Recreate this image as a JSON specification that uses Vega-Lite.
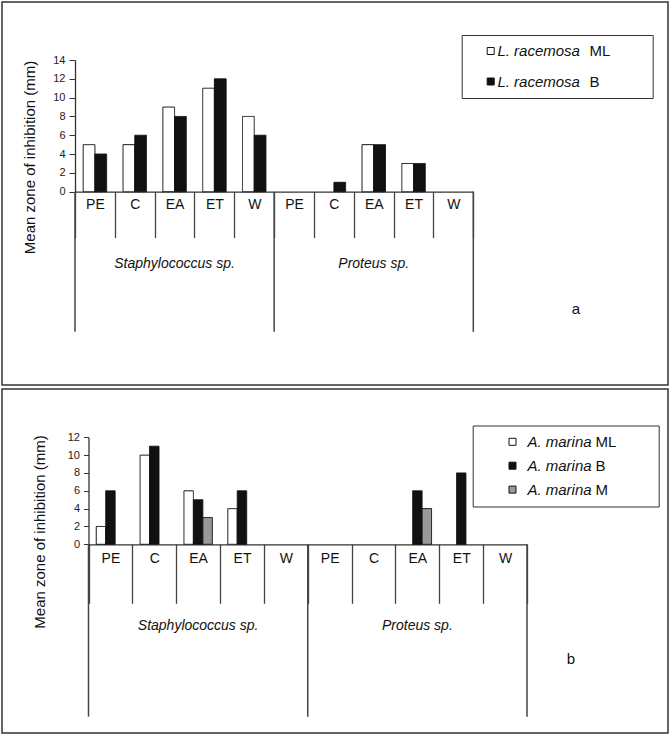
{
  "$schema": "https://vega.github.io/schema/vega-lite/v6.json",
  "background": "white",
  "padding": {"left": 1, "top": 1, "right": 1, "bottom": 1},
  "spacing": 2,
  "config": {
    "font": "Liberation Sans",
    "axis": {"grid": false},
    "title": {"font": "Liberation Sans"}
  },
  "resolve": {
    "scale": {"x": "independent", "y": "independent", "xOffset": "independent", "fill": "independent", "strokeDash": "independent"},
    "legend": {"fill": "independent", "strokeDash": "independent"}
  },
  "datasets": {
    "top": [
      {"group": "Staphylococcus sp.", "solvent": "PE", "cat": "S|PE", "series": "L. racemosa ML", "extract": "ML", "value": 5},
      {"group": "Staphylococcus sp.", "solvent": "PE", "cat": "S|PE", "series": "L. racemosa B", "extract": "B", "value": 4},
      {"group": "Staphylococcus sp.", "solvent": "C", "cat": "S|C", "series": "L. racemosa ML", "extract": "ML", "value": 5},
      {"group": "Staphylococcus sp.", "solvent": "C", "cat": "S|C", "series": "L. racemosa B", "extract": "B", "value": 6},
      {"group": "Staphylococcus sp.", "solvent": "EA", "cat": "S|EA", "series": "L. racemosa ML", "extract": "ML", "value": 9},
      {"group": "Staphylococcus sp.", "solvent": "EA", "cat": "S|EA", "series": "L. racemosa B", "extract": "B", "value": 8},
      {"group": "Staphylococcus sp.", "solvent": "ET", "cat": "S|ET", "series": "L. racemosa ML", "extract": "ML", "value": 11},
      {"group": "Staphylococcus sp.", "solvent": "ET", "cat": "S|ET", "series": "L. racemosa B", "extract": "B", "value": 12},
      {"group": "Staphylococcus sp.", "solvent": "W", "cat": "S|W", "series": "L. racemosa ML", "extract": "ML", "value": 8},
      {"group": "Staphylococcus sp.", "solvent": "W", "cat": "S|W", "series": "L. racemosa B", "extract": "B", "value": 6},
      {"group": "Proteus sp.", "solvent": "PE", "cat": "P|PE", "series": "L. racemosa ML", "extract": "ML", "value": 0},
      {"group": "Proteus sp.", "solvent": "PE", "cat": "P|PE", "series": "L. racemosa B", "extract": "B", "value": 0},
      {"group": "Proteus sp.", "solvent": "C", "cat": "P|C", "series": "L. racemosa ML", "extract": "ML", "value": 0},
      {"group": "Proteus sp.", "solvent": "C", "cat": "P|C", "series": "L. racemosa B", "extract": "B", "value": 1},
      {"group": "Proteus sp.", "solvent": "EA", "cat": "P|EA", "series": "L. racemosa ML", "extract": "ML", "value": 5},
      {"group": "Proteus sp.", "solvent": "EA", "cat": "P|EA", "series": "L. racemosa B", "extract": "B", "value": 5},
      {"group": "Proteus sp.", "solvent": "ET", "cat": "P|ET", "series": "L. racemosa ML", "extract": "ML", "value": 3},
      {"group": "Proteus sp.", "solvent": "ET", "cat": "P|ET", "series": "L. racemosa B", "extract": "B", "value": 3},
      {"group": "Proteus sp.", "solvent": "W", "cat": "P|W", "series": "L. racemosa ML", "extract": "ML", "value": 0},
      {"group": "Proteus sp.", "solvent": "W", "cat": "P|W", "series": "L. racemosa B", "extract": "B", "value": 0}
    ],
    "bottom": [
      {"group": "Staphylococcus sp.", "solvent": "PE", "cat": "S|PE", "series": "A. marina ML", "extract": "ML", "value": 2},
      {"group": "Staphylococcus sp.", "solvent": "PE", "cat": "S|PE", "series": "A. marina B", "extract": "B", "value": 6},
      {"group": "Staphylococcus sp.", "solvent": "PE", "cat": "S|PE", "series": "A. marina M", "extract": "M", "value": 0},
      {"group": "Staphylococcus sp.", "solvent": "C", "cat": "S|C", "series": "A. marina ML", "extract": "ML", "value": 10},
      {"group": "Staphylococcus sp.", "solvent": "C", "cat": "S|C", "series": "A. marina B", "extract": "B", "value": 11},
      {"group": "Staphylococcus sp.", "solvent": "C", "cat": "S|C", "series": "A. marina M", "extract": "M", "value": 0},
      {"group": "Staphylococcus sp.", "solvent": "EA", "cat": "S|EA", "series": "A. marina ML", "extract": "ML", "value": 6},
      {"group": "Staphylococcus sp.", "solvent": "EA", "cat": "S|EA", "series": "A. marina B", "extract": "B", "value": 5},
      {"group": "Staphylococcus sp.", "solvent": "EA", "cat": "S|EA", "series": "A. marina M", "extract": "M", "value": 3},
      {"group": "Staphylococcus sp.", "solvent": "ET", "cat": "S|ET", "series": "A. marina ML", "extract": "ML", "value": 4},
      {"group": "Staphylococcus sp.", "solvent": "ET", "cat": "S|ET", "series": "A. marina B", "extract": "B", "value": 6},
      {"group": "Staphylococcus sp.", "solvent": "ET", "cat": "S|ET", "series": "A. marina M", "extract": "M", "value": 0},
      {"group": "Staphylococcus sp.", "solvent": "W", "cat": "S|W", "series": "A. marina ML", "extract": "ML", "value": 0},
      {"group": "Staphylococcus sp.", "solvent": "W", "cat": "S|W", "series": "A. marina B", "extract": "B", "value": 0},
      {"group": "Staphylococcus sp.", "solvent": "W", "cat": "S|W", "series": "A. marina M", "extract": "M", "value": 0},
      {"group": "Proteus sp.", "solvent": "PE", "cat": "P|PE", "series": "A. marina ML", "extract": "ML", "value": 0},
      {"group": "Proteus sp.", "solvent": "PE", "cat": "P|PE", "series": "A. marina B", "extract": "B", "value": 0},
      {"group": "Proteus sp.", "solvent": "PE", "cat": "P|PE", "series": "A. marina M", "extract": "M", "value": 0},
      {"group": "Proteus sp.", "solvent": "C", "cat": "P|C", "series": "A. marina ML", "extract": "ML", "value": 0},
      {"group": "Proteus sp.", "solvent": "C", "cat": "P|C", "series": "A. marina B", "extract": "B", "value": 0},
      {"group": "Proteus sp.", "solvent": "C", "cat": "P|C", "series": "A. marina M", "extract": "M", "value": 0},
      {"group": "Proteus sp.", "solvent": "EA", "cat": "P|EA", "series": "A. marina ML", "extract": "ML", "value": 0},
      {"group": "Proteus sp.", "solvent": "EA", "cat": "P|EA", "series": "A. marina B", "extract": "B", "value": 6},
      {"group": "Proteus sp.", "solvent": "EA", "cat": "P|EA", "series": "A. marina M", "extract": "M", "value": 4},
      {"group": "Proteus sp.", "solvent": "ET", "cat": "P|ET", "series": "A. marina ML", "extract": "ML", "value": 0},
      {"group": "Proteus sp.", "solvent": "ET", "cat": "P|ET", "series": "A. marina B", "extract": "B", "value": 8},
      {"group": "Proteus sp.", "solvent": "ET", "cat": "P|ET", "series": "A. marina M", "extract": "M", "value": 0},
      {"group": "Proteus sp.", "solvent": "W", "cat": "P|W", "series": "A. marina ML", "extract": "ML", "value": 0},
      {"group": "Proteus sp.", "solvent": "W", "cat": "P|W", "series": "A. marina B", "extract": "B", "value": 0},
      {"group": "Proteus sp.", "solvent": "W", "cat": "P|W", "series": "A. marina M", "extract": "M", "value": 0}
    ]
  },
  "vconcat": [
    {
      "width": 666,
      "height": 383,
      "view": {"stroke": "#333", "strokeWidth": 1.5},
      "title": {"text": "a", "orient": "bottom", "anchor": "end", "frame": "group", "offset": -76, "dx": -88, "baseline": "middle", "fontSize": 15, "fontWeight": "normal", "color": "#111"},
      "layer": [
        {
          "data": {"name": "top"},
          "transform": [{"filter": "datum.value > 0"}],
          "mark": {"type": "bar", "stroke": "#111", "strokeWidth": 1},
          "encoding": {
            "x": {
              "field": "cat", "type": "nominal",
              "scale": {"domain": ["S|PE", "S|C", "S|EA", "S|ET", "S|W", "P|PE", "P|C", "P|EA", "P|ET", "P|W"], "range": [73, 471.3], "paddingInner": 0, "paddingOuter": 0},
              "axis": {"title": null, "orient": "bottom", "offset": -193.3, "tickBand": "extent", "tickSize": 46, "tickColor": "#444", "tickWidth": 1.3, "domainColor": "#333", "domainWidth": 1.3, "labelAngle": 0, "labelFontSize": 14, "labelColor": "#111", "labelBaseline": "middle", "labelPadding": -33.4, "labelExpr": "split(datum.label, '|')[1]"}
            },
            "xOffset": {"field": "series", "type": "nominal", "scale": {"domain": ["L. racemosa ML", "L. racemosa B"], "range": [0, 39.83], "paddingInner": 0, "paddingOuter": 0.7}},
            "y": {
              "field": "value", "type": "quantitative",
              "scale": {"domain": [0, 14], "range": [189.7, 58], "nice": false},
              "axis": {"title": "Mean zone of inhibition (mm)", "offset": -73, "values": [0, 2, 4, 6, 8, 10, 12, 14], "tickSize": 6, "tickColor": "#333", "domainColor": "#333", "domainWidth": 1.3, "labelFontSize": 11, "labelColor": "#222", "labelPadding": 4, "titleFontSize": 15, "titleFontWeight": "normal", "titleColor": "#111", "titleAngle": -90, "titleX": -40.7, "titleY": 155, "titleAlign": "center", "titleBaseline": "alphabetic"}
            },
            "fill": {
              "field": "series", "type": "nominal",
              "scale": {"domain": ["L. racemosa ML", "L. racemosa B"], "range": ["#ffffff", "#111111"]},
              "legend": {"title": null, "orient": "none", "legendX": 481.2, "legendY": 41.5, "padding": 0, "rowPadding": 14.5, "symbolType": "square", "symbolSize": 49, "symbolStrokeColor": "#111", "symbolStrokeWidth": 1, "labelOffset": -0.8, "labelFontSize": 15, "labelFontStyle": "italic", "labelColor": "#111", "labelExpr": "slice(datum.label, 0, lastindexof(datum.label, ' '))"}
            },
            "strokeDash": {
              "field": "extract", "type": "nominal",
              "scale": {"domain": ["ML", "B"], "range": [[1, 0], [1, 0]]},
              "legend": {"title": null, "orient": "none", "legendX": 459.7, "legendY": 33, "padding": 8.5, "rowPadding": 14.5, "symbolSize": 100, "symbolOpacity": 0, "labelOffset": 104.2, "labelFontSize": 15, "labelColor": "#111", "strokeColor": "#333", "encode": {"legend": {"update": {"strokeWidth": {"value": 1.5}}}}, "labelExpr": "datum.label + '\u2800\u2800\u2800'"}
            }
          }
        },
        {
          "data": {"values": [{"edge": "S|PE"}, {"edge": "P|PE"}]},
          "mark": {"type": "rule", "color": "#444", "strokeWidth": 1.5},
          "encoding": {
            "x": {"field": "edge", "type": "nominal", "bandPosition": 0},
            "y": {"datum": 0, "type": "quantitative"},
            "y2": {"datum": -14.9}
          }
        },
        {
          "data": {"values": [{"edge": "P|W"}]},
          "mark": {"type": "rule", "color": "#444", "strokeWidth": 1.5},
          "encoding": {
            "x": {"field": "edge", "type": "nominal", "bandPosition": 1},
            "y": {"datum": 0, "type": "quantitative"},
            "y2": {"datum": -14.9}
          }
        },
        {
          "data": {"values": [{"label": "Staphylococcus sp.", "mid": "S|EA"}, {"label": "Proteus sp.", "mid": "P|EA"}]},
          "mark": {"type": "text", "fontSize": 14, "fontStyle": "italic", "color": "#111", "baseline": "middle", "align": "center"},
          "encoding": {
            "x": {"field": "mid", "type": "nominal"},
            "y": {"datum": -7.7, "type": "quantitative"},
            "text": {"field": "label"}
          }
        }
      ]
    },
    {
      "width": 666,
      "height": 344,
      "view": {"stroke": "#333", "strokeWidth": 1.5},
      "title": {"text": "b", "orient": "bottom", "anchor": "end", "frame": "group", "offset": -73.7, "dx": -93, "baseline": "middle", "fontSize": 15, "fontWeight": "normal", "color": "#111"},
      "layer": [
        {
          "data": {"name": "bottom"},
          "transform": [{"filter": "datum.value > 0"}],
          "mark": {"type": "bar", "stroke": "#111", "strokeWidth": 1},
          "encoding": {
            "x": {
              "field": "cat", "type": "nominal",
              "scale": {"domain": ["S|PE", "S|C", "S|EA", "S|ET", "S|W", "P|PE", "P|C", "P|EA", "P|ET", "P|W"], "range": [86.5, 525], "paddingInner": 0, "paddingOuter": 0},
              "axis": {"title": null, "orient": "bottom", "offset": -188.7, "tickBand": "extent", "tickSize": 59, "tickColor": "#444", "tickWidth": 1.3, "domainColor": "#333", "domainWidth": 1.3, "labelAngle": 0, "labelFontSize": 14, "labelColor": "#111", "labelBaseline": "middle", "labelPadding": -45, "labelExpr": "split(datum.label, '|')[1]"}
            },
            "xOffset": {"field": "series", "type": "nominal", "scale": {"domain": ["A. marina ML", "A. marina B", "A. marina M"], "range": [0, 43.85], "paddingInner": 0, "paddingOuter": 0.82}},
            "y": {
              "field": "value", "type": "quantitative",
              "scale": {"domain": [0, 12], "range": [155.3, 48.3], "nice": false},
              "axis": {"title": "Mean zone of inhibition (mm)", "offset": -86.5, "values": [0, 2, 4, 6, 8, 10, 12], "tickSize": 5, "tickColor": "#333", "domainColor": "#333", "domainWidth": 1.3, "labelFontSize": 11, "labelColor": "#222", "labelPadding": 4, "titleFontSize": 15, "titleFontWeight": "normal", "titleColor": "#111", "titleAngle": -90, "titleX": -44.5, "titleY": 142.5, "titleAlign": "center", "titleBaseline": "alphabetic"}
            },
            "fill": {
              "field": "series", "type": "nominal",
              "scale": {"domain": ["A. marina ML", "A. marina B", "A. marina M"], "range": ["#ffffff", "#111111", "#999999"]},
              "legend": {"title": null, "orient": "none", "legendX": 503, "legendY": 45.3, "padding": 0, "rowPadding": 7.9, "symbolType": "square", "symbolSize": 49, "symbolStrokeColor": "#111", "symbolStrokeWidth": 1, "labelOffset": 7.4, "labelFontSize": 15, "labelFontStyle": "italic", "labelColor": "#111", "labelExpr": "slice(datum.label, 0, lastindexof(datum.label, ' '))"}
            },
            "strokeDash": {
              "field": "extract", "type": "nominal",
              "scale": {"domain": ["ML", "B", "M"], "range": [[1, 0], [1, 0], [1, 0]]},
              "legend": {"title": null, "orient": "none", "legendX": 470.7, "legendY": 36.5, "padding": 8.8, "rowPadding": 7.9, "symbolSize": 100, "symbolOpacity": 0, "labelOffset": 99, "labelFontSize": 15, "labelColor": "#111", "strokeColor": "#333", "encode": {"legend": {"update": {"strokeWidth": {"value": 1.5}}}}, "labelExpr": "datum.label + '\u2800\u2800\u2800'"}
            }
          }
        },
        {
          "data": {"values": [{"edge": "S|PE"}, {"edge": "P|PE"}]},
          "mark": {"type": "rule", "color": "#444", "strokeWidth": 1.5},
          "encoding": {
            "x": {"field": "edge", "type": "nominal", "bandPosition": 0},
            "y": {"datum": 0, "type": "quantitative"},
            "y2": {"datum": -19.33}
          }
        },
        {
          "data": {"values": [{"edge": "P|W"}]},
          "mark": {"type": "rule", "color": "#444", "strokeWidth": 1.5},
          "encoding": {
            "x": {"field": "edge", "type": "nominal", "bandPosition": 1},
            "y": {"datum": 0, "type": "quantitative"},
            "y2": {"datum": -19.33}
          }
        },
        {
          "data": {"values": [{"label": "Staphylococcus sp.", "mid": "S|EA"}, {"label": "Proteus sp.", "mid": "P|EA"}]},
          "mark": {"type": "text", "fontSize": 14, "fontStyle": "italic", "color": "#111", "baseline": "middle", "align": "center"},
          "encoding": {
            "x": {"field": "mid", "type": "nominal"},
            "y": {"datum": -9.13, "type": "quantitative"},
            "text": {"field": "label"}
          }
        }
      ]
    }
  ]
}
